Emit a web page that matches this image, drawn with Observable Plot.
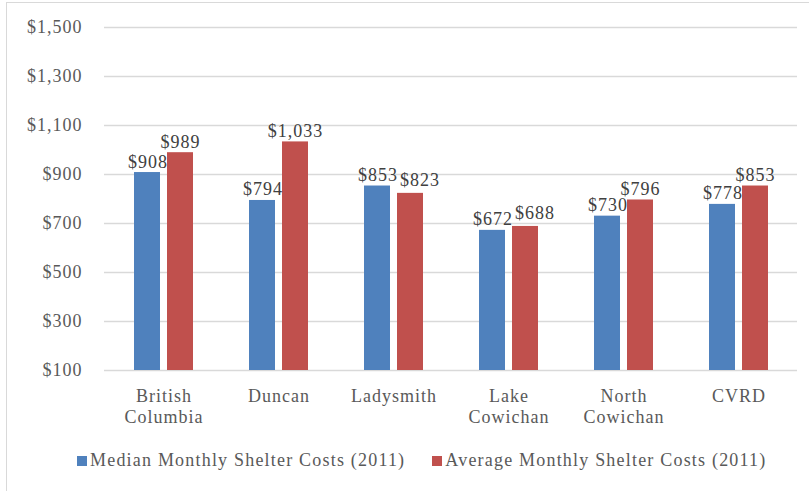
<!DOCTYPE html>
<html>
<head>
<meta charset="utf-8">
<script src="https://cdn.jsdelivr.net/npm/d3@7"></script>
<script src="https://cdn.jsdelivr.net/npm/@observablehq/plot@0.6"></script>
<style>
  html, body { margin: 0; padding: 0; background: #fff; overflow: hidden; }
  #wrap { position: relative; width: 809px; height: 491px; }
  #frame { position: absolute; left: 6px; top: 2px; width: 840px; height: 540px; border: 1.5px solid #d9d9d9; pointer-events: none; }
  #chart svg { display: block; }
  #legend { position: absolute; left: 77px; top: 450px; display: flex; align-items: center;
            font-family: "Liberation Serif", serif; font-size: 18px; letter-spacing: 1.2px; color: #595959; white-space: nowrap; }
  .sw { display: inline-block; width: 10px; height: 10px; margin-right: 3px; }
  .item { display: flex; align-items: center; }
</style>
</head>
<body>
<div id="wrap">
  <div id="frame"></div>
  <div id="chart"></div>
  <div id="legend"></div>
</div>
<script>
const categories = ["British Columbia", "Duncan", "Ladysmith", "Lake Cowichan", "North Cowichan", "CVRD"];
const tickLabels = ["British\nColumbia", "Duncan", "Ladysmith", "Lake\nCowichan", "North\nCowichan", "CVRD"];
const median = [908, 794, 853, 672, 730, 778];
const average = [989, 1033, 823, 688, 796, 853];
const yTicks = [100, 300, 500, 700, 900, 1100, 1300, 1500];
const seriesNames = ["Median Monthly Shelter Costs (2011)", "Average Monthly Shelter Costs (2011)"];
const colors = ["#4F81BD", "#C0504D"];

const data = categories.map((c, i) => ({cat: c, median: median[i], average: average[i]}));
const fmt = v => "$" + d3.format(",")(v);
// labels of near-equal pairs get nudged apart (as the spreadsheet does)
const close = d => Math.abs(d.median - d.average) < 40;

const chart = Plot.plot({
  width: 809,
  height: 440,
  marginLeft: 104,
  marginRight: 12,
  marginTop: 27,
  marginBottom: 70,
  style: {fontFamily: "Liberation Serif, serif", fontSize: "18px", color: "#595959", letterSpacing: "1px", background: "transparent"},
  x: {domain: categories, paddingInner: 0.49, paddingOuter: 0.245},
  y: {domain: [100, 1500]},
  marks: [
    Plot.ruleY(yTicks, {stroke: "#d9d9d9", strokeWidth: 1.5}),
    Plot.barY(data, {x: "cat", y1: () => 100, y2: "median", fill: colors[0], insetRight: 33}),
    Plot.barY(data, {x: "cat", y1: () => 100, y2: "average", fill: colors[1], insetLeft: 33}),
    Plot.text(data, {x: "cat", y: "median", text: d => fmt(d.median), dx: -16, dy: -5, lineAnchor: "bottom", fill: "#404040", fontSize: 18}),
    Plot.text(data.filter(d => !close(d)), {x: "cat", y: "average", text: d => fmt(d.average), dx: 16.5, dy: -5, lineAnchor: "bottom", fill: "#404040", fontSize: 18}),
    Plot.text(data.filter(close), {x: "cat", y: "average", text: d => fmt(d.average), dx: 26, dy: -7, lineAnchor: "bottom", fill: "#404040", fontSize: 18}),
    Plot.axisY({ticks: yTicks, tickFormat: fmt, tickSize: 0, tickPadding: 22, label: null, fontSize: 18}),
    Plot.axisX({tickFormat: d => tickLabels[categories.indexOf(d)], tickSize: 0, tickPadding: 16, lineHeight: 1.2, label: null, fontSize: 18})
  ]
});
document.getElementById("chart").appendChild(chart);

const legend = document.getElementById("legend");
seriesNames.forEach((name, i) => {
  const item = document.createElement("span");
  item.className = "item";
  if (i > 0) item.style.marginLeft = "27px";
  const sw = document.createElement("span");
  sw.className = "sw";
  sw.style.background = colors[i];
  const t = document.createElement("span");
  t.textContent = name;
  item.appendChild(sw);
  item.appendChild(t);
  legend.appendChild(item);
});
</script>
</body>
</html>
